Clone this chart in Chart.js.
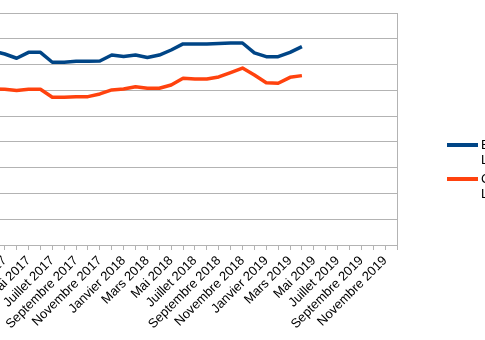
<!DOCTYPE html>
<html lang="fr">
<head>
    <meta charset="UTF-8">
    <title>Prix au litre</title>
    <script src="https://cdn.jsdelivr.net/npm/chart.js"></script>
    <style>
        body { margin: 0; background: #fff; }
        #wrap { position: relative; width: 485px; height: 340px; overflow: hidden; }
        #box { position: absolute; left: -19px; top: 0; width: 600px; height: 340px; }
    </style>
</head>
<body>
    <div id="wrap"><div id="box"><canvas id="lineChart"></canvas></div></div>

    <script>
        // Months from Janvier 2017 to Décembre 2019
        const monthNames = ['Janvier', 'Février', 'Mars', 'Avril', 'Mai', 'Juin',
            'Juillet', 'Août', 'Septembre', 'Octobre', 'Novembre', 'Décembre'];
        const years = [2017, 2018, 2019];
        const months = [];
        years.forEach(y => monthNames.forEach(m => months.push(m + ' ' + y)));

        // Values (Jan 2017 -> Apr 2019)
        const essence = [1.50, 1.505, 1.482, 1.449, 1.495, 1.495, 1.418, 1.418, 1.425, 1.425,
            1.428, 1.474, 1.463, 1.474, 1.455, 1.474, 1.513, 1.56, 1.56, 1.56,
            1.563, 1.567, 1.567, 1.49, 1.461, 1.461, 1.495, 1.539];
        const gazole = [1.21, 1.21, 1.208, 1.199, 1.208, 1.208, 1.146, 1.146, 1.151, 1.151,
            1.172, 1.203, 1.210, 1.228, 1.216, 1.216, 1.241, 1.293, 1.288, 1.288,
            1.304, 1.338, 1.373, 1.319, 1.259, 1.255, 1.301, 1.314];

        const seriesNames = [['Essence', 'Litre'], ['Gazole', 'Litre']];
        const gridColor = '#b3b3b3';

        // legend drawn by hand so each label can take two lines
        const sideLegend = {
            id: 'sideLegend',
            afterDraw(chart) {
                const ctx = chart.ctx;
                const x0 = chart.chartArea.right + 50;
                let y = chart.chartArea.top + 132;
                ctx.save();
                ctx.font = '13px "Liberation Sans", Arial, sans-serif';
                ctx.fillStyle = '#000';
                ctx.textBaseline = 'alphabetic';
                chart.data.datasets.forEach(ds => {
                    ctx.strokeStyle = ds.borderColor;
                    ctx.lineWidth = 4;
                    ctx.beginPath();
                    ctx.moveTo(x0, y);
                    ctx.lineTo(x0 + 31, y);
                    ctx.stroke();
                    ds.label.forEach((line, i) => {
                        ctx.fillText(line, x0 + 34, y + 4 + i * 15);
                    });
                    y += 34;
                });
                ctx.restore();
            }
        };

        const ctx = document.getElementById('lineChart').getContext('2d');
        new Chart(ctx, {
            type: 'line',
            data: {
                labels: months,
                datasets: [
                    { label: seriesNames[0], data: essence, borderColor: '#004586', borderWidth: 3.5 },
                    { label: seriesNames[1], data: gazole, borderColor: '#ff420e', borderWidth: 3.5 }
                ]
            },
            options: {
                responsive: true,
                maintainAspectRatio: false,
                animation: false,
                layout: { padding: { top: 13, left: 0, right: 184, bottom: 0 } },
                elements: { point: { radius: 0 }, line: { tension: 0, borderJoinStyle: 'round' } },
                plugins: { legend: { display: false }, tooltip: { enabled: false } },
                scales: {
                    x: {
                        offset: false,
                        border: { color: gridColor },
                        grid: {
                            color: c => c.index === months.length - 1 ? gridColor : 'rgba(0,0,0,0)',
                            tickColor: gridColor,
                            tickLength: 5
                        },
                        ticks: {
                            autoSkip: false,
                            minRotation: 45,
                            maxRotation: 45,
                            color: '#000',
                            font: { family: '"Liberation Sans", Arial, sans-serif', size: 13 },
                            callback: (v, i) => i % 2 === 0 ? months[i] : ''
                        },
                        afterFit(scale) {
                            scale.height = 95;
                            scale.paddingLeft = 0;
                            scale.paddingRight = 0;
                        }
                    },
                    y: {
                        min: 0,
                        max: 1.8,
                        border: { display: false },
                        grid: { color: gridColor, drawTicks: false },
                        ticks: { display: false, stepSize: 0.2 },
                        afterFit(scale) { scale.width = 0; }
                    }
                }
            },
            plugins: [sideLegend]
        });
    </script>
</body>
</html>
